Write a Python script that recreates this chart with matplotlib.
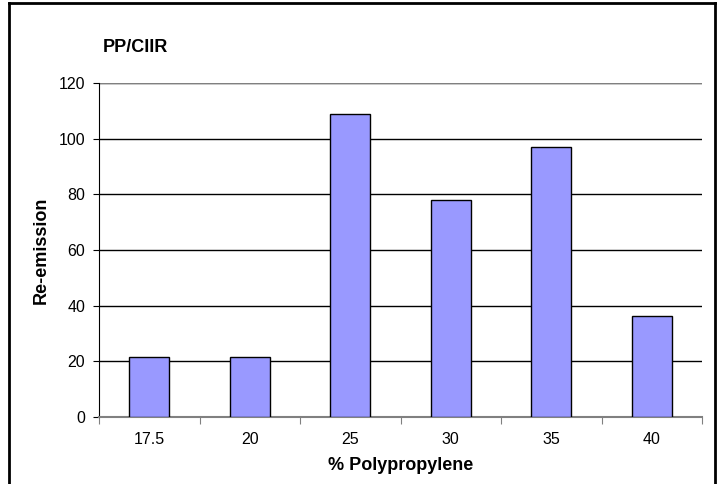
import matplotlib.pyplot as plt

plt.rcParams['font.family'] = ['Liberation Sans', 'DejaVu Sans']

categories = ["17.5", "20", "25", "30", "35", "40"]
values = [21.7, 21.7, 108.8, 78.0, 97.0, 36.4]

fig = plt.figure(figsize=(7.19, 4.84), dpi=100)
ax = fig.add_axes([99 / 719, 1 - 417 / 484, (702 - 99) / 719, (417 - 83) / 484])

x = range(len(categories))
ax.bar(x, values, width=0.4, color="#9999FF", edgecolor="black", linewidth=1.0, zorder=3)

ax.set_xlim(-0.5, len(categories) - 0.5)
ax.set_ylim(0, 120)
ax.set_yticks(range(0, 121, 20))
ax.yaxis.grid(True, color="black", linewidth=1.0, zorder=0)
ax.set_axisbelow(True)

ax.set_xticks([i + 0.5 for i in range(len(categories))][:-1] + [-0.5, len(categories) - 0.5])
ax.set_xticklabels([])
ax.set_xticks(list(x), minor=True)
ax.set_xticklabels(categories, minor=True)
ax.tick_params(axis="x", which="major", length=5, color="gray", direction="out")
ax.tick_params(axis="x", which="minor", length=0, pad=11, labelsize=11.5)
ax.tick_params(axis="y", length=4, direction="out", labelsize=11.5, pad=6)

for s in ["top", "right"]:
    ax.spines[s].set_visible(False)
ax.spines["left"].set_color("black")
ax.spines["bottom"].set_color("gray")
ax.spines["bottom"].set_linewidth(1.5)
ax.axhline(120, color="gray", linewidth=1.5, zorder=1)

ax.set_ylabel("Re-emission", fontsize=13, fontweight="bold", labelpad=6)
ax.set_xlabel("% Polypropylene", fontsize=13, fontweight="bold", labelpad=7)
fig.text(103 / 719, 1 - 47 / 484, "PP/CIIR", fontsize=13, fontweight="bold", va="center", ha="left")

# frame around the chart area
fig.add_artist(plt.Line2D([9 / 719, 9 / 719], [0, 1 - 3 / 484], color="black", linewidth=2, transform=fig.transFigure))
fig.add_artist(plt.Line2D([9 / 719, 715 / 719], [1 - 3 / 484, 1 - 3 / 484], color="black", linewidth=2, transform=fig.transFigure))
fig.add_artist(plt.Line2D([715 / 719, 715 / 719], [0, 1 - 3 / 484], color="black", linewidth=2, transform=fig.transFigure))

fig.savefig("out.png", dpi=100)
